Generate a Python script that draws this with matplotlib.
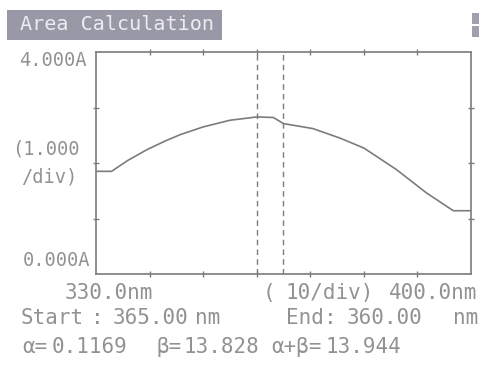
import numpy as np
import matplotlib.pyplot as plt
from matplotlib.patches import Rectangle

wl = [330.0, 332.9, 336.0, 339.5, 343.0, 345.7, 350.0, 355.0, 360.0, 363.1, 365.0,
      370.5, 375.5, 380.0, 386.1, 391.7, 396.7, 400.0]
absv = [1.85, 1.85, 2.05, 2.24, 2.40, 2.51, 2.65, 2.77, 2.83, 2.82, 2.71,
        2.62, 2.45, 2.27, 1.88, 1.46, 1.14, 1.14]
start_nm = 365.0
end_nm = 360.0
alfa = 0.1169
beta = 13.828
alfa_beta = 13.944
x_ticks = [340, 350, 360, 370, 380, 390]
y_ticks = [1, 2, 3]

W, H = 482, 372
cinza = '#929292'
linha = '#7c7c7c'
fonte = 'DejaVu Sans Mono'

fig = plt.figure(figsize=(W / 100, H / 100), dpi=100)
fig.patch.set_facecolor('white')


def px(x, y):
    return x / W, 1 - y / H


ax = fig.add_axes([96 / W, 1 - 274 / H, (471 - 96) / W, (274 - 52) / H])
ax.plot(wl, absv, color=linha, lw=1.2)
ax.axvline(start_nm, color=linha, lw=1, ls=(0, (4, 3)))
ax.axvline(end_nm, color=linha, lw=1, ls=(0, (4, 3)))
ax.set_xlim(330, 400)
ax.set_ylim(0, 4)
ax.set_xticks(x_ticks)
ax.set_yticks(y_ticks)
ax.tick_params(direction='inout', length=5, width=1, color=linha,
               top=True, right=True, labelbottom=False, labelleft=False)
for s in ax.spines.values():
    s.set_color(linha)
    s.set_linewidth(1.2)

# barra do título
fig.patches.append(Rectangle(px(7, 40), 215 / W, 30 / H, transform=fig.transFigure,
                             facecolor='#9898a6', edgecolor='none'))
fig.text(*px(20, 25), 'Area Calculation', family=fonte, size=14.5, color='#ececf0',
         va='center', ha='left')
# ícone no canto
for y0 in [24, 37]:
    fig.patches.append(Rectangle(px(472, y0), 7 / W, 11 / H, transform=fig.transFigure,
                                 facecolor='#a0a0ae', edgecolor='none'))

kw = dict(family=fonte, size=13.5, color=cinza)
kg = dict(family=fonte, size=15, color=cinza, va='center')
fig.text(*px(87, 51), '4.000A', ha='right', va='top', **kw)
fig.text(*px(80, 149), '(1.000', ha='right', va='center', **kw)
fig.text(*px(77, 177), '/div)', ha='right', va='center', **kw)
fig.text(*px(90, 270), '0.000A', ha='right', va='bottom', **kw)

fig.text(*px(153, 293), '330.0nm', ha='right', **kg)
fig.text(*px(263, 293), '(', ha='left', **kg)
fig.text(*px(285, 293), '10/div)', ha='left', **kg)
fig.text(*px(477, 293), '400.0nm', ha='right', **kg)

fig.text(*px(21, 318), 'Start', ha='left', **kg)
fig.text(*px(97, 318), ':', ha='center', **kg)
fig.text(*px(113, 318), '%.2f' % start_nm, ha='left', **kg)
fig.text(*px(195, 318), 'nm', ha='left', **kg)
fig.text(*px(286, 318), 'End', ha='left', **kg)
fig.text(*px(330, 318), ':', ha='center', **kg)
fig.text(*px(347, 318), '%.2f' % end_nm, ha='left', **kg)
fig.text(*px(478, 318), 'nm', ha='right', **kg)

fig.text(*px(22, 347), 'α=', ha='left', **kg)
fig.text(*px(52, 347), '%.4f' % alfa, ha='left', **kg)
fig.text(*px(156, 347), 'β=', ha='left', **kg)
fig.text(*px(184, 347), '%.3f' % beta, ha='left', **kg)
fig.text(*px(271, 347), 'α+β=', ha='left', **kg)
fig.text(*px(325, 347), '%.3f' % alfa_beta, ha='left', **kg)

fig.savefig('out.png', dpi=100)
